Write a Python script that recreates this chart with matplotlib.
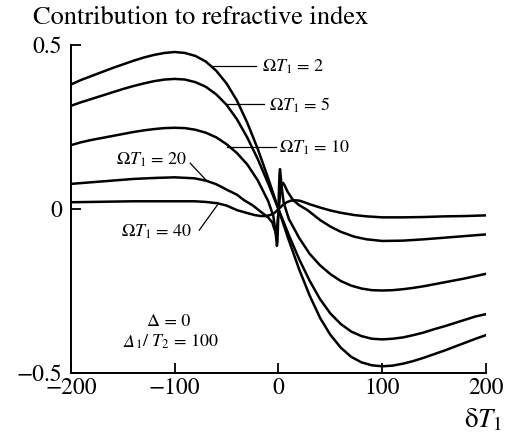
import matplotlib
matplotlib.use('Agg')
import matplotlib.pyplot as plt

plt.rcParams['font.family'] = 'STIXGeneral'
plt.rcParams['mathtext.fontset'] = 'stix'

# values
x_wide = [-200, -190, -180, -170, -160, -150, -140, -130, -120, -110, -100, -90, -80, -70,
          -60, -50, -40, -30, -20, -10, 0, 10, 20, 30, 40, 50, 60, 70, 80, 90, 100, 110,
          120, 130, 140, 150, 160, 170, 180, 190, 200]

y_omega2 = [0.380, 0.394, 0.406, 0.418, 0.430, 0.441, 0.452, 0.462, 0.470, 0.476, 0.479,
            0.476, 0.467, 0.450, 0.422, 0.383, 0.331, 0.263, 0.184, 0.095, 0.000, -0.095,
            -0.184, -0.263, -0.331, -0.383, -0.422, -0.450, -0.467, -0.476, -0.479, -0.477,
            -0.471, -0.463, -0.453, -0.442, -0.431, -0.419, -0.407, -0.395, -0.384]

y_omega5 = [0.315, 0.326, 0.336, 0.346, 0.356, 0.366, 0.375, 0.383, 0.390, 0.395, 0.397,
            0.395, 0.387, 0.373, 0.350, 0.318, 0.274, 0.218, 0.153, 0.079, 0.000, -0.079,
            -0.153, -0.218, -0.274, -0.318, -0.350, -0.373, -0.387, -0.395, -0.397, -0.395,
            -0.391, -0.384, -0.376, -0.366, -0.357, -0.347, -0.337, -0.327, -0.320]

x_omega10 = [-200, -190, -180, -170, -160, -150, -140, -130, -120, -110, -100, -90, -80, -70,
             -60, -50, -40, -30, -20, -10, -5, -3, -2, -1.5, -1, -0.5, 0, 0.5, 1, 1.5, 2, 3,
             5, 10, 20, 30, 40, 50, 60, 70, 80, 90, 100, 110, 120, 130, 140, 150, 160, 170,
             180, 190, 200]
y_omega10 = [0.195, 0.204, 0.211, 0.217, 0.223, 0.229, 0.235, 0.240, 0.244, 0.247, 0.248,
             0.247, 0.242, 0.233, 0.219, 0.198, 0.171, 0.136, 0.088, 0.025, -0.020, -0.065,
             -0.095, -0.112, -0.100, -0.055, 0.000, 0.060, 0.105, 0.122, 0.105, 0.070, 0.020,
             -0.030, -0.088, -0.136, -0.171, -0.198, -0.219, -0.233, -0.242, -0.247, -0.248,
             -0.247, -0.244, -0.240, -0.235, -0.229, -0.223, -0.217, -0.211, -0.204, -0.197]

x_omega20 = [-200, -180, -160, -140, -120, -100, -81, -70, -60, -49, -40, -33, -25, -17, -10,
             -6, -4, -2.5, -1.5, 0, 1.5, 3, 4.5, 6, 9, 14, 20, 28, 40, 50, 60, 73, 85, 100,
             120, 140, 160, 180, 200]
y_omega20 = [0.077, 0.082, 0.087, 0.092, 0.095, 0.097, 0.094, 0.087, 0.076, 0.058, 0.044,
             0.027, 0.012, -0.008, -0.025, -0.040, -0.060, -0.073, -0.062, -0.010, 0.040,
             0.073, 0.080, 0.072, 0.052, 0.028, 0.012, -0.003, -0.033, -0.053, -0.069,
             -0.084, -0.092, -0.097, -0.096, -0.092, -0.087, -0.082, -0.077]

x_omega40 = [-200, -180, -160, -140, -120, -100, -81, -70, -59, -50, -40, -30, -23, -17, -12,
             -8, -4, 0, 4, 8, 12, 16, 20, 25, 30, 40, 50, 60, 73, 85, 100, 120, 140, 160,
             180, 200]
y_omega40 = [0.021, 0.022, 0.023, 0.024, 0.024, 0.024, 0.024, 0.022, 0.018, 0.011, -0.003,
             -0.012, -0.018, -0.021, -0.021, -0.018, -0.012, 0.000, 0.012, 0.021, 0.026,
             0.027, 0.026, 0.021, 0.015, 0.005, -0.004, -0.011, -0.018, -0.022, -0.025,
             -0.025, -0.024, -0.022, -0.021, -0.019]

x_ticks = [-200, -100, 0, 100, 200]
y_ticks = [-0.5, 0, 0.5]
y_tick_labels = ['\u22120.5', '0', '0.5']

fig = plt.figure(figsize=(5.1, 4.38), dpi=100)
ax = fig.add_axes([0.139, 0.148, 0.814, 0.749])

curves = [(x_wide, y_omega2), (x_wide, y_omega5), (x_omega10, y_omega10),
          (x_omega20, y_omega20), (x_omega40, y_omega40)]
for xs, ys in curves:
    ax.plot(xs, ys, color='black', lw=1.8, solid_joinstyle='round')

# curve labels with leader lines
lw_lead = 0.9
ax.plot([-63.8, -21.3], [0.436, 0.436], color='black', lw=lw_lead)
ax.text(-15.5, 0.434, r'$\Omega T_1$ = 2', va='center', ha='left', fontsize=13)
ax.plot([-49.3, -13.5], [0.32, 0.32], color='black', lw=lw_lead)
ax.text(-8.7, 0.318, r'$\Omega T_1$ = 5', va='center', ha='left', fontsize=13)
ax.plot([-49.3, -1.9], [0.189, 0.189], color='black', lw=lw_lead)
ax.text(1.0, 0.187, r'$\Omega T_1$ = 10', va='center', ha='left', fontsize=13)
ax.plot([-85, -69.6], [0.140, 0.088], color='black', lw=lw_lead)
ax.text(-88, 0.149, r'$\Omega T_1$ = 20', va='center', ha='right', fontsize=13)
ax.plot([-76.3, -59], [-0.064, 0.012], color='black', lw=lw_lead)
ax.text(-83, -0.070, r'$\Omega T_1$ = 40', va='center', ha='right', fontsize=13)

ax.text(-106, -0.345, '\u0394 = 0', ha='center', va='center', fontsize=13)
# italic Delta, then the rest of the label right after it
t_delta = ax.text(-149, -0.432, '\u0394', style='italic', ha='left', va='bottom', fontsize=13)
ax.annotate(r'$_1$/ $T_2$ = 100', xy=(1, 0), xycoords=t_delta, ha='left', va='bottom',
            fontsize=13)

ax.set_xlim(-200, 200)
ax.set_ylim(-0.5, 0.5)
ax.set_xticks(x_ticks)
ax.set_xticklabels([str(v).replace('-', '\u2212') for v in x_ticks])
ax.set_yticks(y_ticks)
ax.set_yticklabels(y_tick_labels)

ax.spines['top'].set_visible(False)
ax.spines['right'].set_visible(False)
for s in ['left', 'bottom']:
    ax.spines[s].set_linewidth(1.4)
ax.tick_params(direction='in', length=7, width=1.3, labelsize=17)
ax.tick_params(axis='x', pad=3)
ax.tick_params(axis='y', pad=6.5)

fig.text(33 / 510, 1 - 18 / 438, 'Contribution to refractive index', fontsize=19,
         ha='left', va='center')
ax.text(0.993, -0.143, '\u03b4$T_1$', transform=ax.transAxes, ha='center', va='center',
        fontsize=19.5)

fig.savefig('out.png', dpi=100)
